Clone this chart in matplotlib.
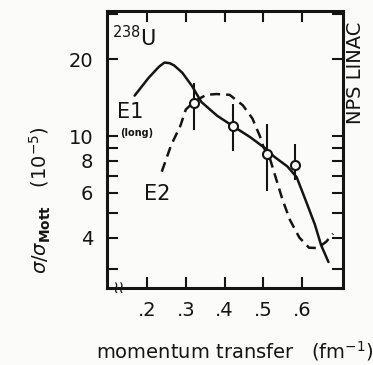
import matplotlib
matplotlib.use("Agg")
import matplotlib.pyplot as plt
from matplotlib.ticker import FixedLocator, FixedFormatter, NullLocator

plt.rcParams['font.family'] = ['DejaVu Sans']

# E1 (long) curve, solid
e1_q = [0.168, 0.204, 0.231, 0.245, 0.258, 0.270, 0.291, 0.316, 0.340, 0.381, 0.423, 0.466,
        0.507, 0.528, 0.562, 0.586, 0.610, 0.633, 0.649, 0.668]
e1_val = [14.4, 16.9, 18.7, 19.4, 19.3, 18.9, 17.7, 15.7, 13.6, 12.0, 10.9, 9.9,
          8.9, 8.3, 7.6, 6.9, 5.56, 4.5, 3.74, 3.21]

# E2 curve, dashed
e2_q = [0.238, 0.262, 0.286, 0.300, 0.323, 0.353, 0.379, 0.413, 0.447, 0.472,
        0.491, 0.501, 0.515, 0.531, 0.550, 0.569, 0.593, 0.618, 0.640, 0.662, 0.680]
e2_val = [7.25, 9.2, 10.96, 12.7, 13.7, 14.5, 14.6, 14.5, 13.2, 11.7,
          10.0, 9.0, 8.35, 6.95, 5.6, 4.68, 4.0, 3.65, 3.64, 3.85, 4.14]

# measured points
pt_q = [0.322, 0.421, 0.509, 0.581]
pt_val = [13.5, 10.9, 8.5, 7.7]
pt_lo = [10.6, 8.7, 6.1, 6.7]
pt_hi = [16.2, 13.3, 11.1, 9.3]

x_ticks = [0.2, 0.3, 0.4, 0.5, 0.6]
x_ticklabels = ['.2', '.3', '.4', '.5', '.6']
y_ticks = [3, 4, 5, 6, 7, 8, 9, 10, 20, 30]
y_ticklabels = ['', '4', '', '6', '', '8', '', '10', '20', '']

ink = '#141414'
fig = plt.figure(figsize=(3.73, 3.65), dpi=100)
fig.patch.set_facecolor('#fbfbf9')
ax = fig.add_axes([0.287, 0.210, 0.633, 0.759])
ax.set_facecolor('#fbfbf9')

ax.plot(e1_q, e1_val, color=ink, lw=1.8, solid_joinstyle='round', solid_capstyle='round')
ax.plot(e2_q, e2_val, color=ink, lw=1.8, dashes=(4.0, 2.4))
err_lo = [v - l for v, l in zip(pt_val, pt_lo)]
err_hi = [h - v for v, h in zip(pt_val, pt_hi)]
ax.errorbar(pt_q, pt_val, yerr=[err_lo, err_hi], fmt='o', ms=6.5, mfc='#fbfbf9',
            mec=ink, mew=1.5, ecolor=ink, elinewidth=1.5, capsize=0, zorder=5)

ax.set_yscale('log')
ax.set_xlim(0.0968, 0.706)
ax.set_ylim(2.53, 30.8)
ax.xaxis.set_major_locator(FixedLocator(x_ticks))
ax.xaxis.set_major_formatter(FixedFormatter(x_ticklabels))
ax.xaxis.set_minor_locator(NullLocator())
ax.yaxis.set_major_locator(FixedLocator(y_ticks))
ax.yaxis.set_major_formatter(FixedFormatter(y_ticklabels))
ax.yaxis.set_minor_locator(NullLocator())
ax.tick_params(which='both', direction='in', top=True, right=True, length=8,
               width=1.5, color=ink, labelsize=14, labelcolor=ink)
ax.tick_params(axis='x', pad=9)
ax.tick_params(axis='y', pad=10)
for s in ax.spines.values():
    s.set_linewidth(2.2)
    s.set_color(ink)

ax.text(0.02, 0.905, r'$^{\mathsf{238}}$U', transform=ax.transAxes, fontsize=15,
        ha='left', va='center', color=ink)
ax.text(0.096, 0.636, 'E1', transform=ax.transAxes, fontsize=15, ha='center',
        va='center', color=ink)
ax.text(0.127, 0.559, '(long)', transform=ax.transAxes, fontsize=7, ha='center',
        va='center', color=ink, fontweight='bold')
ax.text(0.214, 0.34, 'E2', transform=ax.transAxes, fontsize=15, ha='center',
        va='center', color=ink)
ax.text(0.05, 0.0, '≀≀', transform=ax.transAxes, fontsize=12, ha='center',
        va='center', color=ink, clip_on=False)

fig.text(0.952, 0.80, 'NPS LINAC', rotation=90, fontsize=14, ha='center',
         va='center', color=ink)
fig.text(0.107, 0.452, r'$\sigma/\sigma_{\mathbf{Mott}}$   $(10^{-5})$', rotation=90,
         fontsize=14, ha='center', va='center', color=ink)
fig.text(0.63, 0.038, r'momentum transfer   (fm$^{-1}$)', fontsize=14,
         ha='center', va='center', color=ink)

fig.savefig('out.png', dpi=100, facecolor=fig.get_facecolor())
